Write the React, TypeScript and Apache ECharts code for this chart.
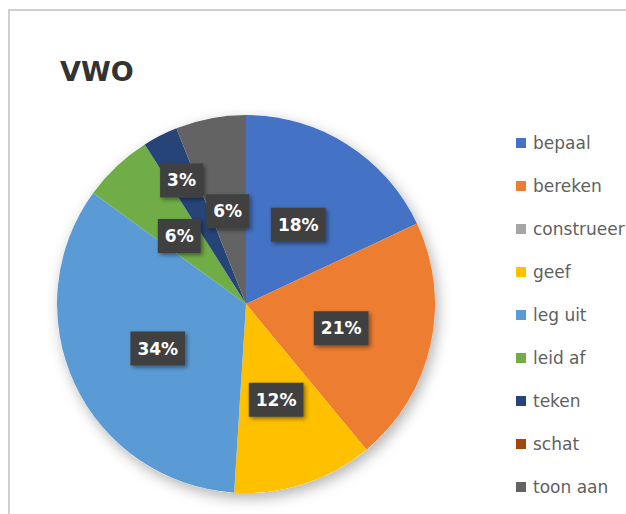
import React, { useEffect, useRef } from 'react';
import * as echarts from 'echarts';

const chartTitle = 'VWO';
const categories = ['bepaal', 'bereken', 'construeer', 'geef', 'leg uit', 'leid af', 'teken', 'schat', 'toon aan'];
const percentages = [18, 21, 0, 12, 34, 6, 3, 0, 6];
const colors = ['#4472C4', '#ED7D31', '#A5A5A5', '#FFC000', '#5B9BD5', '#70AD47', '#264478', '#9E480E', '#636363'];
const outerLabelCategories = ['teken'];

const CENTER = [246, 304];
const RADIUS = 189;

export default function App() {
  const ref = useRef<HTMLDivElement>(null);
  useEffect(() => {
    if (!ref.current) return;
    const chart = echarts.init(ref.current, null, { renderer: 'svg' });
    const labelBox = {
      color: '#ffffff',
      fontWeight: 'bold',
      fontSize: 17,
      fontFamily: 'DejaVu Sans',
      lineHeight: 18,
      backgroundColor: '#404040',
      padding: [8, 7],
      offset: [0, 3],
      shadowBlur: 4,
      shadowColor: 'rgba(0,0,0,0.45)',
      shadowOffsetX: 2,
      shadowOffsetY: 2,
      formatter: (p: any) => p.value + '%',
    };
    chart.setOption({
      animation: false,
      title: {
        text: chartTitle,
        left: 55,
        top: 53,
        textStyle: { fontSize: 27, fontWeight: 'bold', color: '#333333', fontFamily: 'DejaVu Sans' },
      },
      legend: {
        data: categories,
        orient: 'vertical',
        left: 511,
        top: 128,
        icon: 'rect',
        itemWidth: 10,
        itemHeight: 10,
        itemGap: 23,
        textStyle: { fontSize: 17, lineHeight: 20, color: '#5f5f5f', fontFamily: 'DejaVu Sans', padding: [0, 0, 0, 2] },
      },
      series: [
        {
          type: 'pie',
          name: 'shadow',
          center: CENTER,
          radius: RADIUS,
          silent: true,
          z: 1,
          data: [{ value: 1, name: '__shadow' }],
          itemStyle: {
            color: '#ffffff',
            shadowBlur: 14,
            shadowColor: 'rgba(0,0,0,0.3)',
            shadowOffsetX: 3,
            shadowOffsetY: 5,
          },
          label: { show: false },
          labelLine: { show: false },
          emphasis: { disabled: true },
        },
        {
          type: 'pie',
          name: 'VWO',
          center: CENTER,
          radius: RADIUS,
          startAngle: 90,
          clockwise: true,
          z: 2,
          avoidLabelOverlap: false,
          data: categories.map((c, i) => ({
            name: c,
            value: percentages[i],
            itemStyle: { color: colors[i] },
            label: { show: percentages[i] > 0 && !outerLabelCategories.includes(c) },
          })),
          label: { position: 'inside', ...labelBox },
          labelLine: { show: false },
          emphasis: { disabled: true },
        },
        {
          type: 'pie',
          name: 'outer labels',
          center: CENTER,
          radius: [100, 178],
          startAngle: 90,
          clockwise: true,
          z: 3,
          silent: true,
          avoidLabelOverlap: false,
          data: categories.map((c, i) => ({
            name: c,
            value: percentages[i],
            itemStyle: { color: 'rgba(0,0,0,0)' },
            label: { show: percentages[i] > 0 && outerLabelCategories.includes(c) },
          })),
          label: { position: 'inside', ...labelBox },
          labelLine: { show: false },
          emphasis: { disabled: true },
        },
      ],
    });
    return () => chart.dispose();
  }, []);
  return (
    <>
      <div
        style={{
          position: 'absolute',
          left: 8,
          top: 9,
          width: 618,
          height: 505,
          borderLeft: '2px solid #d0d0d0',
          borderTop: '2px solid #d0d0d0',
          boxSizing: 'border-box',
          background: '#ffffff',
        }}
      />
      <div ref={ref} style={{ position: 'absolute', left: 0, top: 0, width: 626, height: 514 }} />
    </>
  );
}
